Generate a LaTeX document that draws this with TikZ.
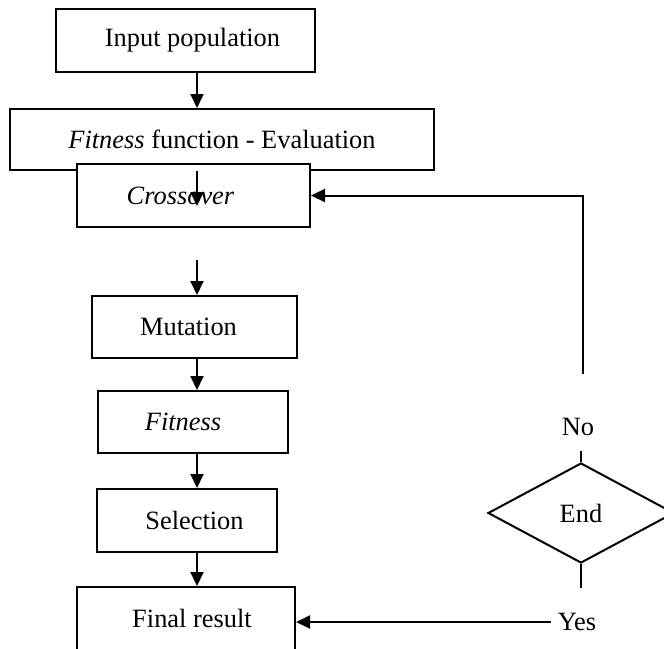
\documentclass[tikz,border=0pt]{standalone}
\usepackage{fontspec}
\setmainfont{Liberation Serif}
\usepackage{tikz}
\usetikzlibrary{shapes,arrows.meta,positioning}

\tikzset{
  stage/.style={draw, line width=1pt, fill=white, inner sep=0pt, minimum height=31.5pt},
  test/.style={diamond, draw, line width=1pt, minimum width=93pt, minimum height=50pt, inner sep=0pt},
  flow/.style={line width=1pt, -{Triangle[length=7pt,width=6.5pt]}},
  link/.style={line width=1pt}
}

\begin{document}
\begin{tikzpicture}[x=0.5pt,y=-0.5pt,font=\fontsize{13.2}{15}\selectfont]
\useasboundingbox (0,0) rectangle (664,648);
\clip (0,0) rectangle (664,648);

\node[stage, minimum width=129.5pt] (inp) at (185.5,40.5) {\hspace*{7pt}Input population};
\node[stage, minimum width=212pt, minimum height=30.5pt] (fit) at (222,139.5) {\textit{Fitness} function - Evaluation};
\node[stage, minimum width=116.5pt] (cross) at (193.5,195.5) {\textit{Crossover}\hspace*{13pt}};
\node[stage, minimum width=102.5pt, minimum height=31pt] (mut) at (194.5,327) {Mutation\hspace*{6pt}};
\node[stage, minimum width=95pt, minimum height=31pt] (fitn) at (193,422) {\textit{Fitness}\hspace*{10pt}};
\node[stage, minimum width=90pt] (sel) at (187,520.5) {\hspace*{7.5pt}Selection};
\node[stage, minimum width=109pt] (fin) at (186,618.5) {\hspace*{6pt}Final result};

\node[test] (end) at (581,513) {End};
\node (no) at (578,427) {No};
\node (yes) at (577,622) {Yes};

\coordinate (axis) at (197,0);
\coordinate (gap) at (197,260);
\coordinate (back) at (583,374);

% main flow
\draw[flow] (inp.south -| axis) -- (fit.north -| axis);
\draw[flow] (fit.south -| axis) -- ++(0,35);
\draw[flow] (gap) -- (mut.north -| gap);
\draw[flow] (mut.south -| axis) -- (fitn.north -| axis);
\draw[flow] (fitn.south -| axis) -- (sel.north -| axis);
\draw[flow] (sel.south -| axis) -- (fin.north -| axis);

% loop back and exit
\draw[flow] (back) |- (cross.east);
\draw[link, shorten <=4pt] (no.south -| end.north) -- (end.north);
\draw[link, shorten >=9pt] (end.south) -- (yes.north -| end.south);
\draw[flow] (yes.west) -- (yes.west -| fin.east);
\end{tikzpicture}
\end{document}
